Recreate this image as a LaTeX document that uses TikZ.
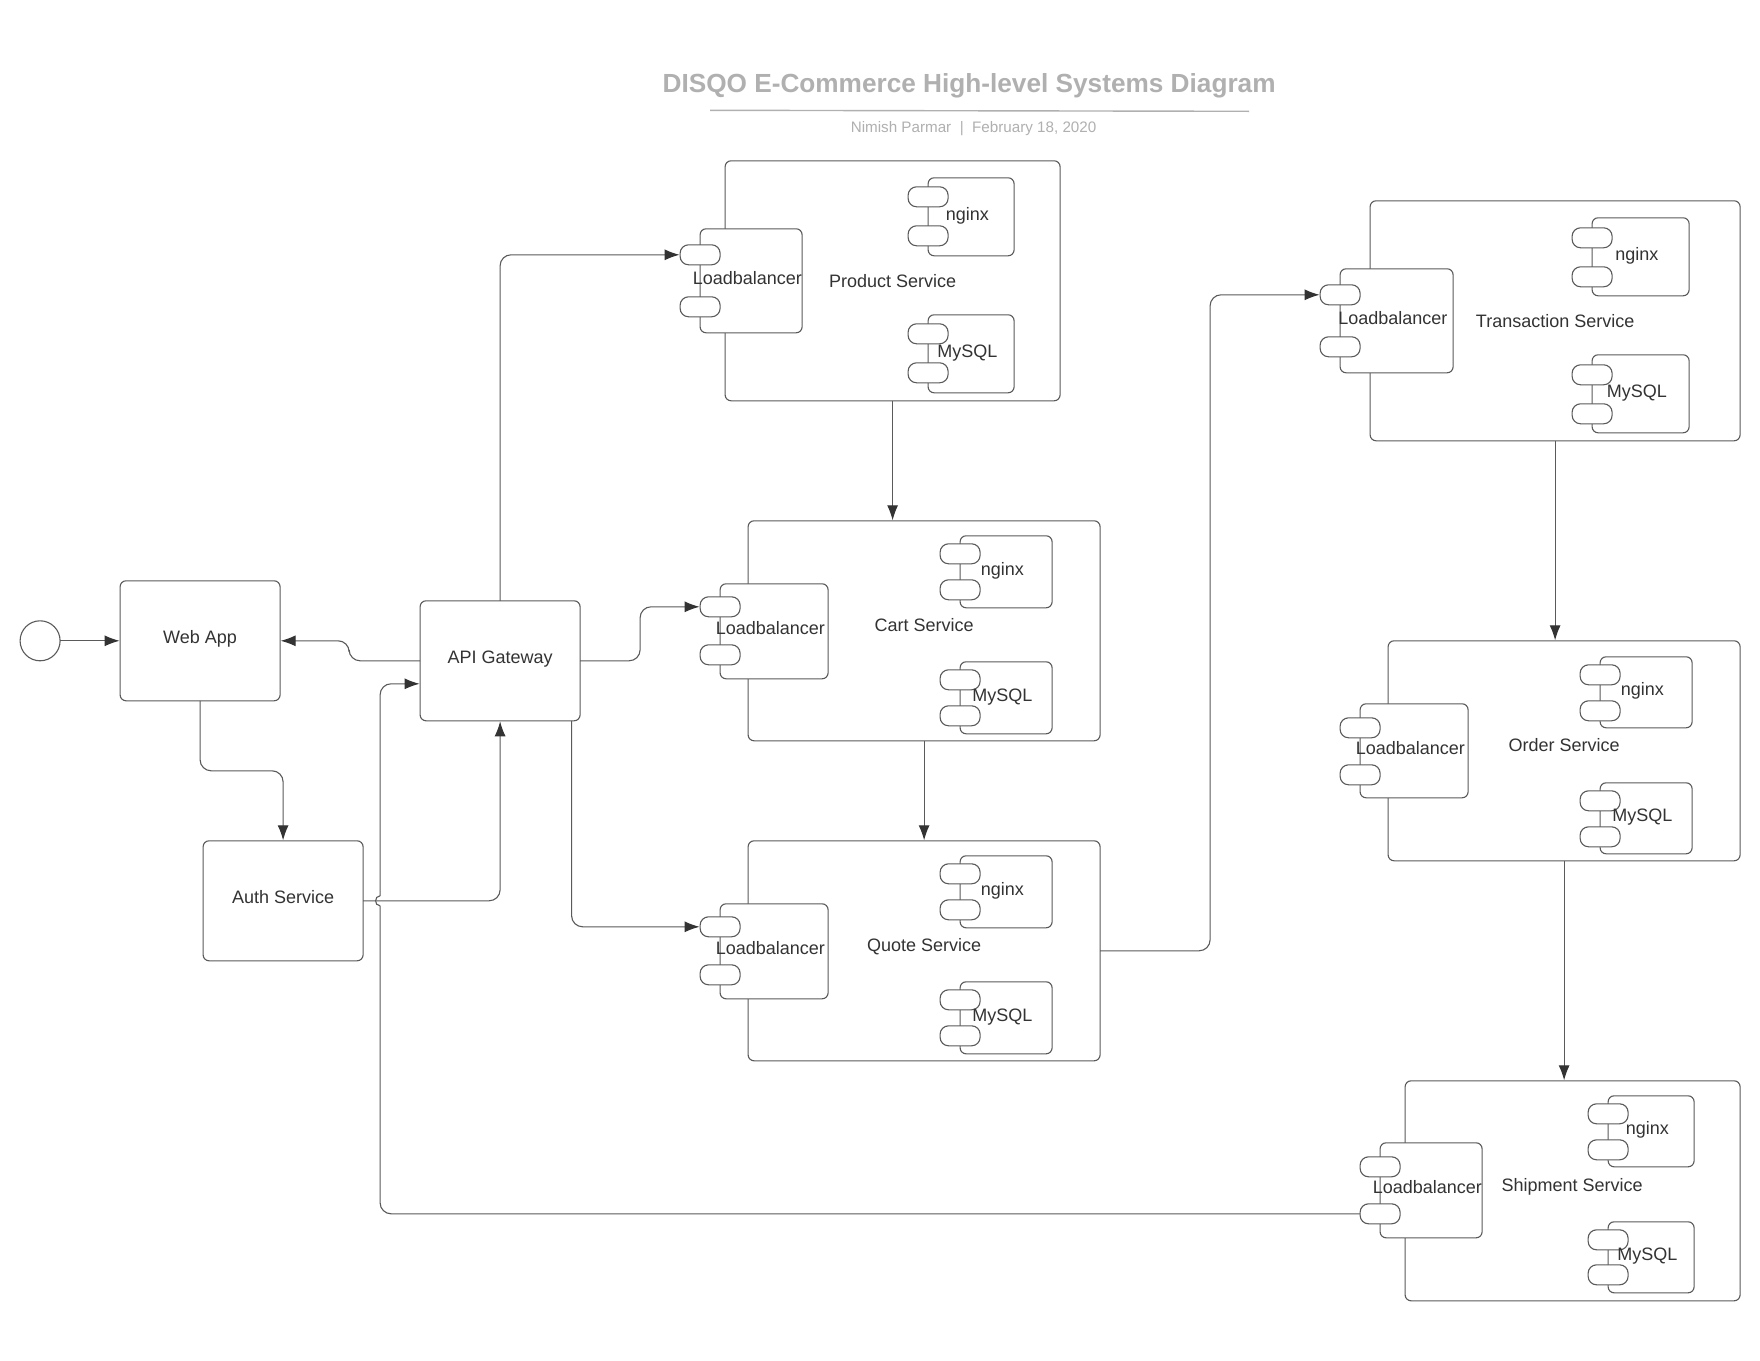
\documentclass[tikz,border=0pt]{standalone}
\usepackage{fontspec}
\setmainfont{Liberation Sans}
\usetikzlibrary{arrows.meta,calc}
\definecolor{ln}{HTML}{5A5A5A}
\definecolor{txt}{HTML}{333333}
\definecolor{ttl}{HTML}{B0B0B0}
\tikzset{
  rbox/.style={draw=ln,fill=white,line width=1.1pt,rounded corners=6pt,inner sep=0pt,outer sep=0pt},
  portbox/.style={rbox,rounded corners=8.5pt,minimum width=40pt,minimum height=20pt},
  lbl/.style={font=\fontsize{18}{20}\selectfont,text=txt,anchor=base,inner sep=0pt},
  wire/.style={draw=ln,line width=1.1pt,rounded corners=11pt},
  conn/.style={wire,-{Latex[length=15pt,width=11pt,color=txt]},shorten >=0.5pt},
}
% \comp{name}{x0}{x1}{y0}{y1}{port1 top}{port2 top}{label}
\newcommand\comp[8]{%
  \pgfmathsetmacro\mx{(#2+#3)/2}\pgfmathsetmacro\my{(#4+#5)/2}%
  \pgfmathsetmacro\mw{#3-#2}\pgfmathsetmacro\mh{#5-#4}%
  \node[rbox,minimum width=\mw pt,minimum height=\mh pt] (#1) at (\mx,\my) {};
  \pgfmathsetmacro\pa{#6+10}\pgfmathsetmacro\pb{#7+10}%
  \node[portbox] (#1p1) at (#2,\pa) {};
  \node[portbox] (#1p2) at (#2,\pb) {};
  \pgfmathsetmacro\tx{(#2-20+#3)/2+6.3}\pgfmathsetmacro\ty{\my+3.6}%
  \node[lbl] (#1t) at (\tx,\ty) {#8};
}
\newcommand\svc[6]{%
  \pgfmathsetmacro\mx{(#2+#3)/2}\pgfmathsetmacro\my{(#4+#5)/2}%
  \pgfmathsetmacro\mw{#3-#2}\pgfmathsetmacro\mh{#5-#4}%
  \node[rbox,minimum width=\mw pt,minimum height=\mh pt] (#1) at (\mx,\my) {};
}
\begin{document}
\begin{tikzpicture}[x=1pt,y=-1pt]
\useasboundingbox (0,0) rectangle (1760,1360);
\fill[white] (0,0) rectangle (1760,1360);
\begin{scope}[yshift=-0.8pt,xshift=0.1pt]
% title
\node[font=\bfseries\fontsize{26.2}{30}\selectfont,text=ttl,anchor=base,inner sep=0pt] (title) at (969,92) {DISQO E-Commerce High-level Systems Diagram};
\coordinate (ruleL) at (710,109.5);
\coordinate (ruleR) at (1249,110.5);
\draw[ttl,line width=1.4pt] (ruleL) -- (ruleR);
\node[font=\fontsize{15.2}{18}\selectfont,text=ttl,anchor=base,inner sep=0pt] (sub) at (973.5,131.5) {Nimish Parmar\ \ |\ \ February 18, 2020};
% start + plain boxes
\node[rbox,circle,minimum size=40pt] (start) at (40,640) {};
\node[rbox,minimum width=160pt,minimum height=120pt] (web) at (200,640) {};
\node[rbox,minimum width=160pt,minimum height=120pt] (api) at (500,660) {};
\node[rbox,minimum width=160pt,minimum height=120pt] (auth) at (283,900) {};
\node[lbl] (webt) at (200,643) {Web App};
\node[lbl] (apit) at (500,663) {API Gateway};
\node[lbl] (autht) at (283,903) {Auth Service};
% Product
\svc{prod}{725}{1060}{160}{400}{}
\node[lbl] (prodt) at (892.5,287) {Product Service};
\comp{prodlb}{700}{802}{228}{332}{244}{296}{Loadbalancer}
\comp{prodng}{928}{1014}{177}{255}{186}{225}{nginx}
\comp{prodmy}{928}{1014}{314}{392}{323}{362}{MySQL}
% Cart
\svc{cart}{748}{1100}{520}{740}{}
\node[lbl] (cartt) at (924,631) {Cart Service};
\comp{cartlb}{720}{828}{583}{678}{596}{644}{Loadbalancer}
\comp{cartng}{960}{1052}{535}{607}{543}{579}{nginx}
\comp{cartmy}{960}{1052}{661}{733}{669}{705}{MySQL}
% Quote
\svc{quote}{748}{1100}{840}{1060}{}
\node[lbl] (quotet) at (924,951) {Quote Service};
\comp{quotelb}{720}{828}{903}{998}{916}{964}{Loadbalancer}
\comp{quoteng}{960}{1052}{855}{927}{863}{899}{nginx}
\comp{quotemy}{960}{1052}{981}{1053}{989}{1025}{MySQL}
% Transaction
\svc{trans}{1370}{1740}{200}{440}{}
\node[lbl] (transt) at (1555,327) {Transaction Service};
\comp{translb}{1340}{1453}{268}{372}{284}{336}{Loadbalancer}
\comp{transng}{1592}{1689}{217}{295}{227}{266}{nginx}
\comp{transmy}{1592}{1689}{354}{432}{364}{403}{MySQL}
% Order
\svc{order}{1388}{1740}{640}{860}{}
\node[lbl] (ordert) at (1564,751) {Order Service};
\comp{orderlb}{1360}{1468}{703}{797}{717}{764}{Loadbalancer}
\comp{orderng}{1600}{1692}{656}{727}{664}{700}{nginx}
\comp{ordermy}{1600}{1692}{782}{853}{790}{826}{MySQL}
% Shipment
\svc{ship}{1405}{1740}{1080}{1300}{}
\node[lbl] (shipt) at (1572,1191) {Shipment Service};
\comp{shiplb}{1380}{1482}{1142}{1237}{1156}{1203}{Loadbalancer}
\comp{shipng}{1608}{1694}{1095}{1166}{1103}{1139}{nginx}
\comp{shipmy}{1608}{1694}{1221}{1292}{1229}{1264}{MySQL}
% connectors
\draw[conn] (start.east) -- (web.west);
\draw[conn] (api.west) -- (349,660) -- (349,640) -- (web.east);
\draw[conn] (web.south) -- (200,770) -- (283,770) -- (auth.north);
\draw[conn] (auth.east) -- (500,900) -- (api.south);
\draw[conn] (api.north) -- (500,254) -- (prodlbp1.west);
\draw[conn] (api.east) -- (640,660) -- (640,606) -- (cartlbp1.west);
\coordinate (apib) at (571.5,720);
\draw[conn] (apib) -- (571.5,926) -- (quotelbp1.west);
\draw[conn] (prod.south) -- (prod.south |- cart.north);
\draw[conn] (cart.south) -- (quote.north);
\draw[conn] (quote.east) -- (1210,950) -- (1210,294) -- (translbp1.west);
\draw[conn] (trans.south) -- (trans.south |- order.north);
\draw[conn] (order.south) -- (order.south |- ship.north);
\coordinate (apil) at (420,683);
\coordinate (hopA) at (380,905);
\coordinate (hopB) at (380,895);
\draw[wire] (shiplbp2.west) -- (380,1213) -- (hopA);
\draw[wire,rounded corners=0pt] (hopA) .. controls (374,905) and (374,895) .. (hopB);
\draw[conn] (hopB) -- (380,683) -- (apil);
\end{scope}
\end{tikzpicture}
\end{document}
